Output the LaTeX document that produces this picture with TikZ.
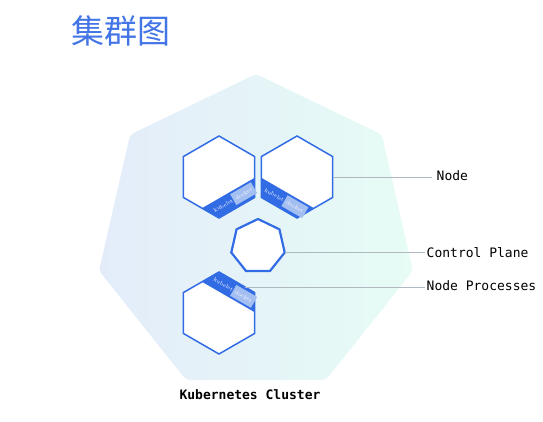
\documentclass[tikz,border=0pt]{standalone}
\usepackage{fontspec}
\setmonofont{DejaVu Sans Mono}
\newfontfamily\cjkfont{Noto Sans CJK SC}
\usetikzlibrary{shapes.geometric,calc}
\definecolor{kblue}{RGB}{50,108,229}
\definecolor{dockbox}{RGB}{163,190,240}
\definecolor{leadergray}{RGB}{176,184,192}
\definecolor{titleblue}{RGB}{67,117,230}
\definecolor{clusterL}{RGB}{228,236,250}
\definecolor{clusterR}{RGB}{230,252,245}
\newcommand\kband[3]{%
  \begin{scope}[shift={(#1.center)},#2]
    \fill[kblue] (-20.5,-35.51) -- (20.5,-35.51) -- (30.31,-18.51) -- (-30.31,-18.51) -- cycle;
    \fill[dockbox] (1,-33) rectangle (25,-20.5);
    \node[bandtext,rotate=#3] at (-10.5,-27) {kubelet};
    \node[bandtext,rotate=#3] at (13,-26.8) {docker};
  \end{scope}}
\begin{document}
\begin{tikzpicture}[x=1pt,y=1pt,
  hexnode/.style={regular polygon, regular polygon sides=6, shape border rotate=30,
    minimum size=82pt, inner sep=0pt, outer sep=0pt, draw=kblue, line width=1.5pt, fill=white},
  cpnode/.style={regular polygon, regular polygon sides=7, minimum size=54.8pt,
    inner sep=0pt, outer sep=0pt, draw=kblue, line width=2.2pt, fill=white},
  clusternode/.style={regular polygon, regular polygon sides=7, minimum size=322pt,
    inner sep=0pt, outer sep=0pt, left color=clusterL, right color=clusterR, rounded corners=4pt},
  bandtext/.style={font=\fontsize{5.5}{6}\selectfont, text=white, inner sep=0pt},
  lbl/.style={font=\ttfamily\fontsize{13}{15}\selectfont, text=black, inner sep=0pt, anchor=base west},
  leaderline/.style={draw=leadergray, line width=1pt}
]
\useasboundingbox (0,0) rectangle (543,421);
\node[font=\cjkfont\fontsize{33}{36}\selectfont, text=titleblue, inner sep=0pt, anchor=base west] (title) at (71.5,377.6) {集群图};
\node[clusternode] (cluster) at (256,186) {};
\node[font=\ttfamily\bfseries\fontsize{13}{15}\selectfont, inner sep=0pt, anchor=base] (clusterlbl) at (250,21.7) {Kubernetes Cluster};
\node[hexnode] (h1) at (219,244) {};
\node[hexnode] (h2) at (297,244) {};
\node[hexnode] (h3) at (219,108) {};
\node[cpnode] (cp) at (258,174.6) {};
\kband{h1}{rotate=30}{30}
\kband{h2}{rotate=-30}{-30}
\kband{h3}{rotate=-30,yscale=-1}{-30}
\node[lbl] (nodelbl) at (436.5,240.3) {Node};
\node[lbl] (cplbl) at (426.5,163.7) {Control Plane};
\node[lbl] (nplbl) at (426.5,130.3) {Node Processes};
\draw[leaderline, shorten >=5pt] (h2.east) -- (h2.east -| nodelbl.west);
\draw[leaderline, shorten >=1.5pt] (cp.-12.86) -- (cp.-12.86 -| cplbl.west);
\draw[leaderline, shorten >=1.5pt] (h3.45) -- (h3.45 -| nplbl.west);
\end{tikzpicture}
\end{document}
